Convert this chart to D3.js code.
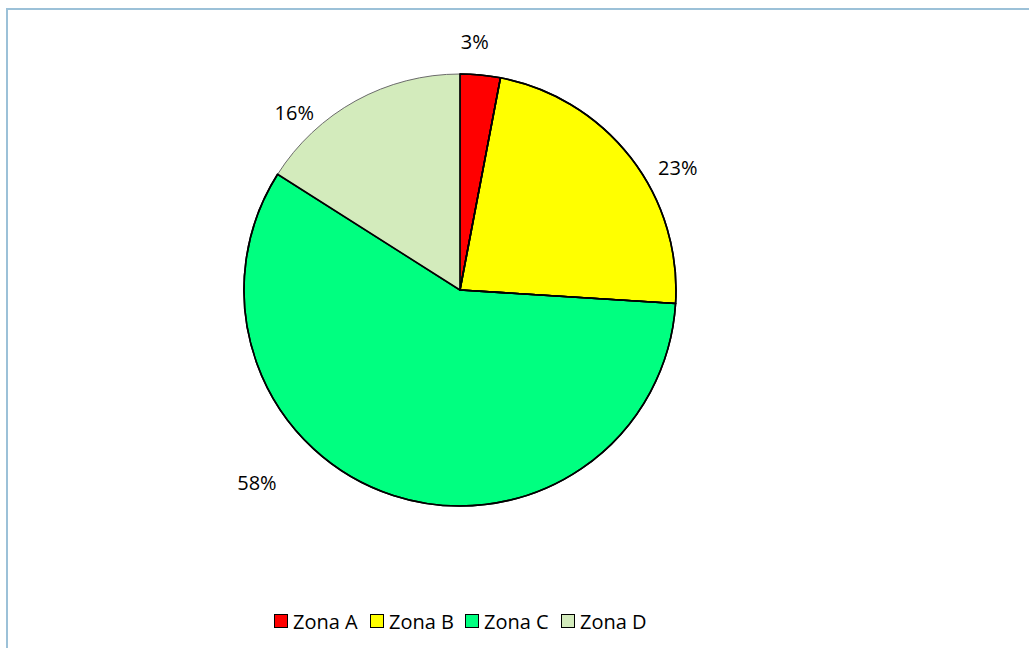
<!DOCTYPE html>
<html>
<head>
<meta charset="utf-8">
<script src="https://cdn.jsdelivr.net/npm/d3@7"></script>
<style>
  html, body { margin: 0; padding: 0; background: #fff; }
  svg { display: block; }
  text { font-family: "Open Sans", Lato, sans-serif; fill: #000; }
</style>
</head>
<body>
<svg id="chart" width="1029" height="648"></svg>
<script>
// Share of each zone (percent)
const categories = ["Zona A", "Zona B", "Zona C", "Zona D"];
const values = [3, 23, 58, 16];
const colors = ["#ff0000", "#ffff00", "#00ff80", "#d3ebbc"];

const svg = d3.select("#chart");
const W = 1029, H = 648;

// frame around the chart area
svg.append("rect")
  .attr("x", 7).attr("y", 9)
  .attr("width", W + 10).attr("height", H + 10)
  .attr("fill", "none")
  .attr("stroke", "#9cc1d8")
  .attr("stroke-width", 2);

const cx = 460, cy = 290, r = 216;

const pie = d3.pie().sort(null).value(d => d.value);
const arcs = pie(categories.map((c, i) => ({ name: c, value: values[i] })));
const arc = d3.arc().innerRadius(0).outerRadius(r);

const g = svg.append("g").attr("transform", `translate(${cx},${cy})`);

g.selectAll("path.slice")
  .data(arcs)
  .enter().append("path")
  .attr("class", "slice")
  .attr("d", arc)
  .attr("fill", (d, i) => colors[i])
  .attr("stroke", (d, i) => i === 3 ? "#6b6b6b" : "#000")
  .attr("stroke-width", (d, i) => i === 3 ? 1 : 1.6)
  .attr("stroke-linejoin", "round");

// redraw the dark outlines on top so shared edges stay black
g.selectAll("path.edge")
  .data(arcs.slice(0, 3))
  .enter().append("path")
  .attr("class", "edge")
  .attr("d", arc)
  .attr("fill", "none")
  .attr("stroke", "#000")
  .attr("stroke-width", 1.6)
  .attr("stroke-linejoin", "round");

// label placement: angle shift (degrees) from the slice middle and radius
const labelPlace = [
  { shift: -2, rad: 249 },
  { shift: 8.4, rad: 250 },
  { shift: 28.5, rad: 280 },
  { shift: -14.2, rad: 243 }
];

g.selectAll("text.pct")
  .data(arcs)
  .enter().append("text")
  .attr("class", "pct")
  .attr("text-anchor", "middle")
  .attr("dominant-baseline", "central")
  .style("font-size", "20px")
  .attr("x", (d, i) => {
    const a = (d.startAngle + d.endAngle) / 2 + labelPlace[i].shift * Math.PI / 180;
    return Math.sin(a) * labelPlace[i].rad;
  })
  .attr("y", (d, i) => {
    const a = (d.startAngle + d.endAngle) / 2 + labelPlace[i].shift * Math.PI / 180;
    return -Math.cos(a) * labelPlace[i].rad;
  })
  .text(d => d3.format(".0f")(d.data.value) + "%");

// legend
const legendX = [274, 370, 465, 561];
const legend = svg.append("g");
categories.forEach((c, i) => {
  const item = legend.append("g").attr("transform", `translate(${legendX[i]},614)`);
  item.append("rect")
    .attr("x", 0.5).attr("y", 0.5)
    .attr("width", 13).attr("height", 13)
    .attr("fill", colors[i])
    .attr("stroke", "#000")
    .attr("stroke-width", 1);
  item.append("text")
    .attr("x", 19).attr("y", 7)
    .attr("dominant-baseline", "central")
    .style("font-size", "20px")
    .text(c);
});
</script>
</body>
</html>
